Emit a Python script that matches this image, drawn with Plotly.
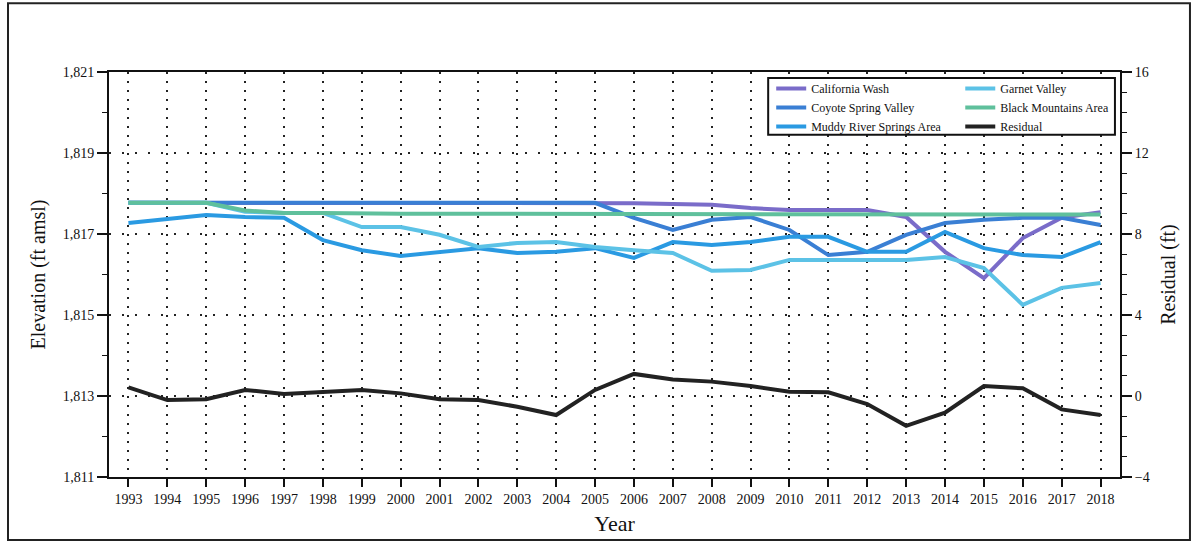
import plotly.graph_objects as go

years = list(range(1993, 2019))

california_wash = [1817.77, 1817.77, 1817.77, 1817.77, 1817.77, 1817.77, 1817.77, 1817.77, 1817.77,
                   1817.77, 1817.77, 1817.77, 1817.77, 1817.76, 1817.74, 1817.72, 1817.64, 1817.59,
                   1817.59, 1817.59, 1817.42, 1816.56, 1815.91, 1816.90, 1817.40, 1817.54]
coyote_spring_valley = [1817.77, 1817.77, 1817.77, 1817.77, 1817.77, 1817.77, 1817.77, 1817.77, 1817.77,
                        1817.77, 1817.77, 1817.77, 1817.77, 1817.40, 1817.10, 1817.35, 1817.42, 1817.10,
                        1816.48, 1816.56, 1816.98, 1817.27, 1817.35, 1817.40, 1817.40, 1817.22]
muddy_river_springs = [1817.27, 1817.37, 1817.47, 1817.42, 1817.40, 1816.85, 1816.60, 1816.46, 1816.56,
                       1816.65, 1816.53, 1816.56, 1816.65, 1816.41, 1816.80, 1816.73, 1816.80, 1816.93,
                       1816.93, 1816.56, 1816.56, 1817.05, 1816.65, 1816.48, 1816.43, 1816.80]
garnet_valley = [1817.77, 1817.77, 1817.77, 1817.55, 1817.52, 1817.52, 1817.17, 1817.17, 1816.98,
                 1816.68, 1816.78, 1816.80, 1816.68, 1816.60, 1816.53, 1816.09, 1816.11, 1816.36,
                 1816.36, 1816.36, 1816.36, 1816.43, 1816.16, 1815.25, 1815.67, 1815.79]
black_mountains = [1817.77, 1817.77, 1817.77, 1817.58, 1817.52, 1817.52, 1817.50, 1817.50, 1817.50,
                   1817.50, 1817.50, 1817.50, 1817.50, 1817.50, 1817.50, 1817.50, 1817.50, 1817.50,
                   1817.50, 1817.50, 1817.50, 1817.50, 1817.50, 1817.49, 1817.49, 1817.48]
residual = [0.43, -0.20, -0.16, 0.30, 0.10, 0.21, 0.30, 0.13, -0.16, -0.20, -0.53, -0.94, 0.30,
            1.09, 0.82, 0.71, 0.49, 0.21, 0.18, -0.40, -1.47, -0.82, 0.49, 0.38, -0.66, -0.94]

elev_ticks = [1811, 1813, 1815, 1817, 1819, 1821]
elev_labels = ["1,811", "1,813", "1,815", "1,817", "1,819", "1,821"]
resid_ticks = [-4, 0, 4, 8, 12, 16]

SERIF = "Liberation Serif, Times New Roman, serif"

# name, values, colour, legend column
series = [
    ("California Wash", california_wash, "#7a6cc9", "legend"),
    ("Coyote Spring Valley", coyote_spring_valley, "#3a7fd4", "legend"),
    ("Muddy River Springs Area", muddy_river_springs, "#2a9ae2", "legend"),
    ("Garnet Valley", garnet_valley, "#5cc2e6", "legend2"),
    ("Black Mountains Area", black_mountains, "#5fc09c", "legend2"),
]

fig = go.Figure()
for name, vals, color, leg in series:
    fig.add_trace(go.Scatter(x=years, y=vals, mode="lines", name=name, legend=leg,
                             line=dict(color=color, width=4)))
fig.add_trace(go.Scatter(x=years, y=residual, mode="lines", name="Residual", yaxis="y2",
                         legend="legend2", line=dict(color="#222222", width=4)))

legend_common = dict(orientation="v", yanchor="top", xanchor="left",
                     bgcolor="rgba(0,0,0,0)", borderwidth=0, itemwidth=30,
                     font=dict(family=SERIF, size=12, color="#111111"), tracegroupgap=0)

fig.update_layout(
    width=1193, height=544,
    margin=dict(l=109, r=73, t=72, b=67),
    paper_bgcolor="white", plot_bgcolor="white",
    font=dict(family=SERIF, size=14, color="#111111"),
    showlegend=True,
    legend=dict(x=0.655, y=0.995, **legend_common),
    legend2=dict(x=0.842, y=0.995, **legend_common),
    xaxis=dict(range=[1992.5, 2018.5], tickmode="array", tickvals=years,
               ticktext=[str(y) for y in years], ticks="outside", ticklen=8, tickwidth=2,
               tickcolor="#111111", showline=True, linecolor="#111111", linewidth=2,
               mirror=True, showgrid=True, gridcolor="#222222", gridwidth=2,
               griddash="2px,7px", zeroline=False,
               title=dict(text="Year", font=dict(size=22), standoff=10),
               tickfont=dict(size=14)),
    yaxis=dict(range=[1811, 1821], tickmode="array", tickvals=elev_ticks, ticktext=elev_labels,
               ticks="outside", ticklen=10, tickwidth=2, tickcolor="#111111",
               minor=dict(dtick=1, tick0=1811, ticks="outside", ticklen=5, tickwidth=1,
                          tickcolor="#111111", showgrid=False),
               showline=True, linecolor="#111111", linewidth=2,
               showgrid=True, gridcolor="#222222", gridwidth=2, griddash="2px,11px",
               zeroline=False,
               title=dict(text="Elevation (ft amsl)", font=dict(size=20), standoff=12),
               tickfont=dict(size=14)),
    yaxis2=dict(range=[-4, 16], overlaying="y", side="right", tickmode="array",
                tickvals=resid_ticks, ticks="outside", ticklen=10, tickwidth=2,
                tickcolor="#111111",
                minor=dict(dtick=1, tick0=-4, ticks="outside", ticklen=5, tickwidth=1,
                           tickcolor="#111111", showgrid=False),
                showline=True, linecolor="#111111", linewidth=2, showgrid=False,
                zeroline=False,
                title=dict(text="Residual (ft)", font=dict(size=20), standoff=12),
                tickfont=dict(size=14)),
    shapes=[
        # outer page frame
        dict(type="rect", xref="paper", yref="paper", x0=-0.0999, x1=1.0692,
             y0=-0.1556, y1=1.170, line=dict(color="#222222", width=2),
             fillcolor="rgba(0,0,0,0)", layer="below"),
        # shared box behind both legend columns
        dict(type="rect", xref="paper", yref="paper", x0=0.652, x1=0.995,
             y0=0.845, y1=0.985, line=dict(color="#111111", width=2),
             fillcolor="white", layer="above"),
    ],
)

fig.write_html("out.html")
